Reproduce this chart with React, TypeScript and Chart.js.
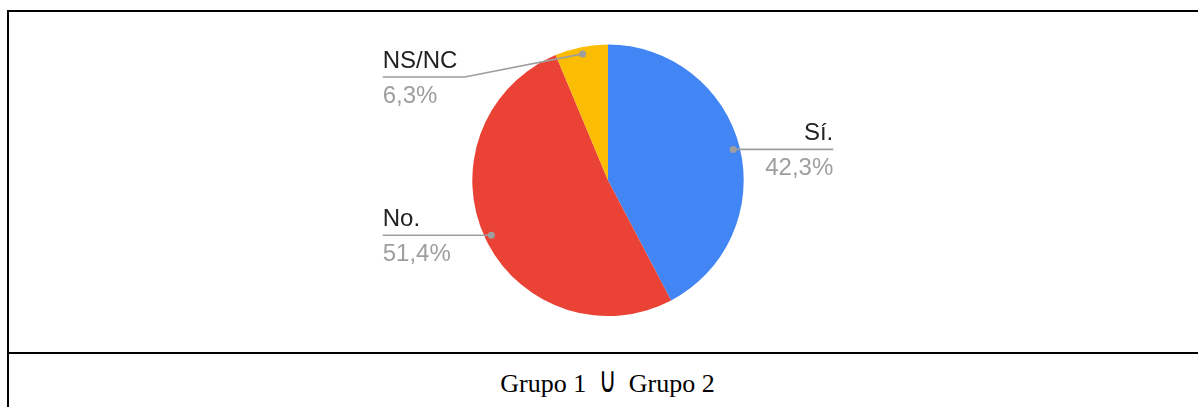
import React, { useEffect, useRef } from "react";
import { Chart, registerables } from "chart.js";

Chart.register(...registerables);

const categories = ["Sí.", "No.", "NS/NC"];
const values = [42.3, 51.4, 6.3];
const percentLabels = ["42,3%", "51,4%", "6,3%"];
const colors = ["#4285F4", "#EA4335", "#FBBC04"];
const captionParts = ["Grupo 1 ", "∪", " Grupo 2"];

const labelFont = '24px "Liberation Sans", Arial, sans-serif';

const leaderPlugin = {
  id: "leaders",
  afterDatasetsDraw(chart: any) {
    const ctx = chart.ctx as CanvasRenderingContext2D;
    const meta = chart.getDatasetMeta(0);
    meta.data.forEach((arc: any, i: number) => {
      const { x, y, startAngle, endAngle, outerRadius } = arc.getProps(
        ["x", "y", "startAngle", "endAngle", "outerRadius"],
        true
      );
      const mid = (startAngle + endAngle) / 2;
      const dx = x + Math.cos(mid) * outerRadius * 0.95;
      const dy = y + Math.sin(mid) * outerRadius * 0.95;
      const right = Math.cos(mid) >= 0;
      const labelX = right ? x + outerRadius * 1.66 : x - outerRadius * 1.66;
      const minY = y - outerRadius * 0.761;
      const ly = Math.max(dy, minY);
      ctx.save();
      ctx.strokeStyle = "#9e9e9e";
      ctx.lineWidth = 1.6;
      ctx.beginPath();
      ctx.moveTo(dx, dy);
      if (Math.abs(ly - dy) > 0.5) {
        ctx.lineTo(labelX + (right ? -82 : 82), ly);
      }
      ctx.lineTo(labelX, ly);
      ctx.stroke();
      ctx.fillStyle = "#9e9e9e";
      ctx.beginPath();
      ctx.arc(dx, dy, 3.5, 0, Math.PI * 2);
      ctx.fill();
      ctx.font = labelFont;
      ctx.textAlign = right ? "right" : "left";
      ctx.textBaseline = "alphabetic";
      ctx.fillStyle = "#222222";
      ctx.fillText(categories[i], labelX, ly - 9);
      ctx.fillStyle = "#9e9e9e";
      ctx.fillText(percentLabels[i], labelX, ly + 26);
      ctx.restore();
    });
  },
};

export default function App() {
  const canvasRef = useRef<HTMLCanvasElement | null>(null);

  useEffect(() => {
    if (!canvasRef.current) return;
    const chart = new Chart(canvasRef.current, {
      type: "pie",
      data: {
        labels: categories,
        datasets: [
          {
            data: values,
            backgroundColor: colors,
            borderWidth: 0,
            hoverOffset: 0,
            offset: 0,
          },
        ],
      },
      options: {
        responsive: false,
        animation: false,
        events: [],
        layout: { padding: { left: 300, right: 299, top: 32.6, bottom: 36 } },
        plugins: {
          legend: { display: false },
          tooltip: { enabled: false },
        },
      },
      plugins: [leaderPlugin],
    });
    return () => chart.destroy();
  }, []);

  return (
    <div style={{ position: "fixed", inset: 0, overflow: "hidden", background: "#fff" }}>
      <div
        style={{
          position: "absolute",
          left: 7,
          top: 10,
          width: 1197,
          borderTop: "2px solid #000",
          borderLeft: "2px solid #000",
          borderRight: "2px solid #000",
        }}
      >
        <div style={{ height: 340, position: "relative" }}>
          <canvas ref={canvasRef} width={1197} height={340} style={{ display: "block" }} />
        </div>
        <div
          style={{
            borderTop: "2px solid #000",
            height: 60,
            boxSizing: "border-box",
            paddingTop: 17,
            textAlign: "center",
            fontFamily: '"Liberation Serif", "Times New Roman", serif',
            fontSize: 26,
            lineHeight: "26px",
            color: "#000",
            whiteSpace: "pre",
          }}
        >
          {captionParts[0]}
          <span
            style={{
              display: "inline-block",
              fontFamily: '"DejaVu Sans", sans-serif',
              fontSize: 24,
              margin: "0 6px",
              transform: "scaleY(1.5)",
              transformOrigin: "50% 78%",
            }}
          >
            {captionParts[1]}
          </span>
          {captionParts[2]}
        </div>
      </div>
    </div>
  );
}
